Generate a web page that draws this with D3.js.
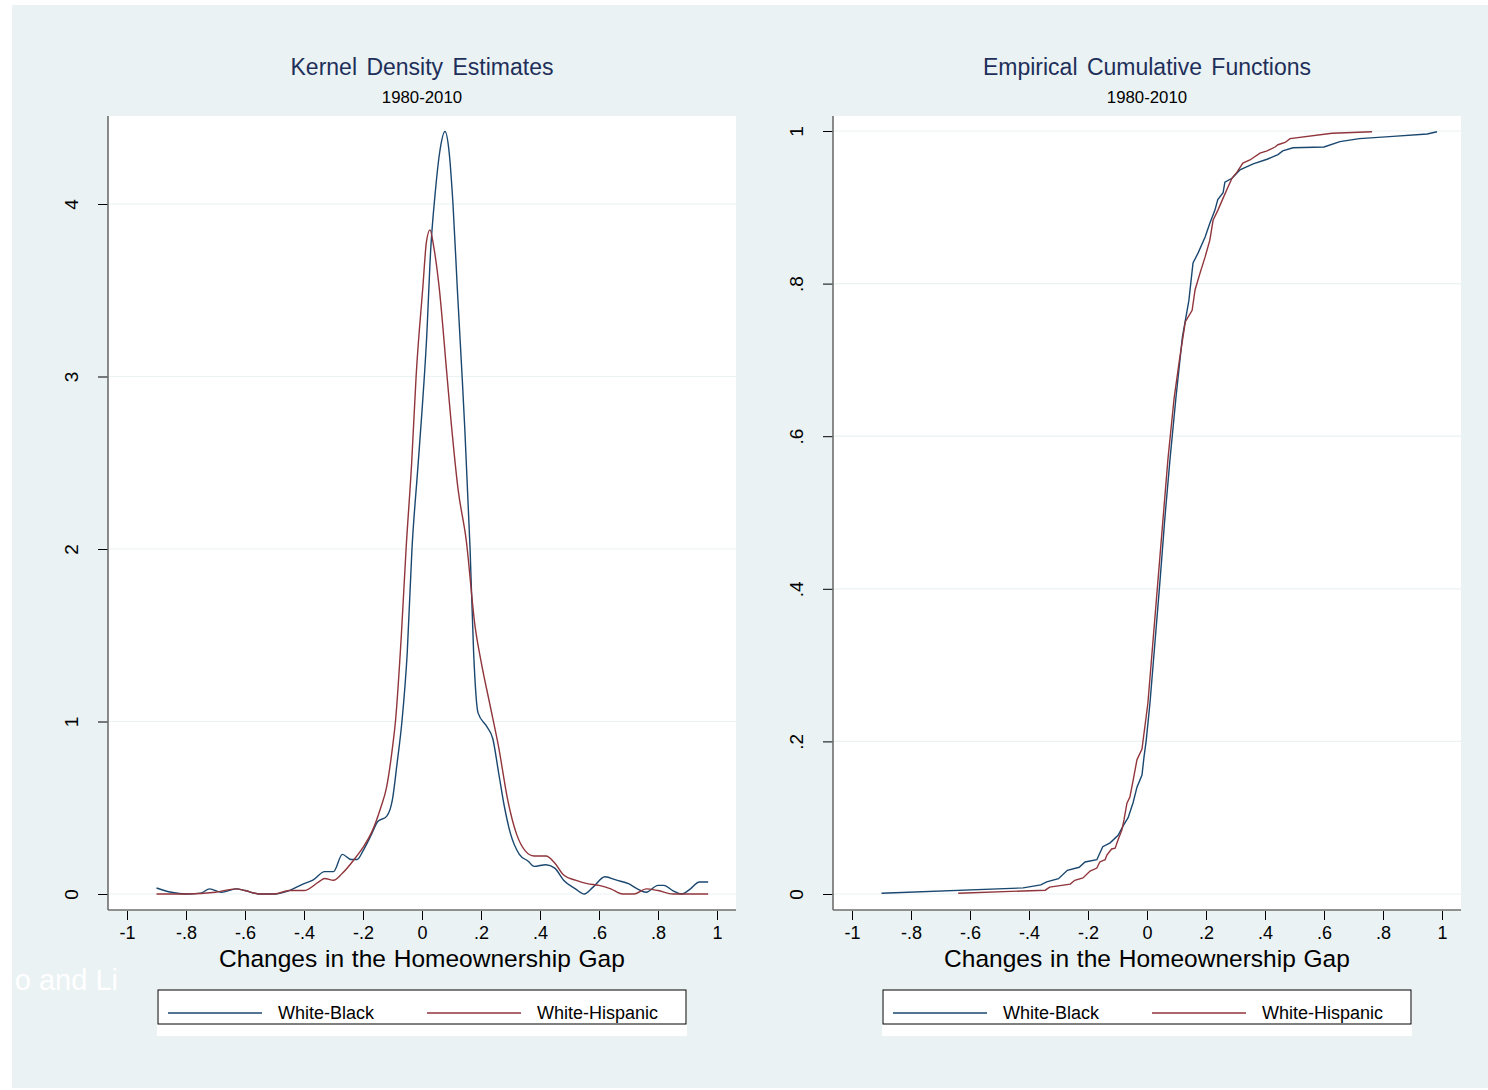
<!DOCTYPE html>
<html>
<head>
<meta charset="utf-8">
<script src="https://cdn.jsdelivr.net/npm/d3@7"></script>
<style>
  body { margin: 0; background: #fff; }
  svg { display: block; font-family: "Liberation Sans", Arial, sans-serif; }
</style>
</head>
<body>
<svg width="1488" height="1090"></svg>
<script>
// x ticks shared by both panels
const xTicks = [-1, -0.8, -0.6, -0.4, -0.2, 0, 0.2, 0.4, 0.6, 0.8, 1];
const kdeTicks = [0, 1, 2, 3, 4];
const cdfTicks = [0, 0.2, 0.4, 0.6, 0.8, 1];
const seriesNames = ["White-Black", "White-Hispanic"];
const seriesColors = ["#1a476f", "#90353b"];

// kernel density, white-black gap
const kdeBlack = [
  [-0.9, 0.035], [-0.85, 0.01], [-0.8, 0.0], [-0.75, 0.005], [-0.72, 0.03], [-0.68, 0.01],
  [-0.63, 0.03], [-0.6, 0.02], [-0.55, 0.0], [-0.5, 0.0], [-0.45, 0.02], [-0.4, 0.06],
  [-0.37, 0.08], [-0.33, 0.13], [-0.3, 0.13], [-0.27, 0.23], [-0.24, 0.2], [-0.22, 0.2],
  [-0.2, 0.25], [-0.17, 0.35], [-0.15, 0.42], [-0.12, 0.45], [-0.1, 0.55], [-0.085, 0.75],
  [-0.068, 1.0], [-0.05, 1.4], [-0.034, 2.0], [-0.015, 2.45], [0.0, 2.8], [0.015, 3.2],
  [0.03, 3.75], [0.044, 4.05], [0.06, 4.3], [0.078, 4.42], [0.092, 4.3], [0.105, 4.0],
  [0.12, 3.5], [0.136, 3.0], [0.145, 2.7], [0.163, 2.0], [0.175, 1.4], [0.19, 1.05],
  [0.22, 0.97], [0.24, 0.9], [0.26, 0.7], [0.28, 0.5], [0.3, 0.35],
  [0.33, 0.23], [0.36, 0.19], [0.38, 0.16], [0.42, 0.17], [0.45, 0.15], [0.48, 0.08],
  [0.52, 0.03], [0.55, 0.0], [0.58, 0.04], [0.62, 0.1], [0.66, 0.08], [0.7, 0.06],
  [0.73, 0.03], [0.76, 0.01], [0.8, 0.05], [0.82, 0.05], [0.85, 0.02], [0.88, 0.0],
  [0.91, 0.03], [0.94, 0.07], [0.97, 0.07]
];

// kernel density, white-hispanic gap
const kdeHispanic = [
  [-0.9, 0.0], [-0.8, 0.0], [-0.7, 0.01], [-0.63, 0.03], [-0.6, 0.02], [-0.55, 0.0],
  [-0.5, 0.0], [-0.45, 0.02], [-0.4, 0.02], [-0.35, 0.07], [-0.33, 0.09], [-0.3, 0.08],
  [-0.27, 0.12], [-0.23, 0.2], [-0.2, 0.27], [-0.17, 0.36], [-0.14, 0.5], [-0.12, 0.62],
  [-0.1, 0.85], [-0.09, 1.0], [-0.07, 1.5], [-0.054, 2.0], [-0.035, 2.5], [-0.02, 3.0],
  [0.003, 3.52], [0.015, 3.78], [0.027, 3.85], [0.04, 3.75], [0.058, 3.52], [0.085, 3.0],
  [0.098, 2.75], [0.122, 2.35], [0.15, 2.05],
  [0.18, 1.55], [0.2, 1.35], [0.23, 1.1], [0.26, 0.85], [0.29, 0.55], [0.32, 0.35],
  [0.35, 0.25], [0.38, 0.22], [0.42, 0.22], [0.45, 0.18], [0.48, 0.11], [0.52, 0.08],
  [0.56, 0.06], [0.6, 0.05], [0.64, 0.03], [0.68, 0.0], [0.72, 0.0], [0.76, 0.03],
  [0.8, 0.02], [0.85, 0.0], [0.97, 0.0]
];

// empirical cumulative distribution, white-black
const cdfBlack = [
  [-0.9, 0.001], [-0.42, 0.008], [-0.36, 0.012], [-0.34, 0.016], [-0.3, 0.02], [-0.27, 0.031],
  [-0.23, 0.035], [-0.21, 0.042], [-0.17, 0.045], [-0.15, 0.062], [-0.125, 0.067], [-0.098, 0.077],
  [-0.08, 0.09], [-0.064, 0.1], [-0.047, 0.12], [-0.034, 0.14], [-0.017, 0.156], [-0.01, 0.18],
  [-0.003, 0.2], [0.01, 0.25], [0.027, 0.33], [0.044, 0.41], [0.06, 0.49], [0.078, 0.57],
  [0.098, 0.65], [0.12, 0.73], [0.142, 0.778], [0.156, 0.827], [0.173, 0.84], [0.197, 0.861],
  [0.213, 0.879], [0.23, 0.896], [0.24, 0.91], [0.258, 0.919], [0.264, 0.933], [0.288, 0.938],
  [0.315, 0.949], [0.36, 0.957], [0.407, 0.963], [0.444, 0.969], [0.46, 0.974], [0.495, 0.978],
  [0.6, 0.979], [0.654, 0.986], [0.72, 0.99], [0.834, 0.993], [0.95, 0.996], [0.983, 0.999]
];

// empirical cumulative distribution, white-hispanic
const cdfHispanic = [
  [-0.64, 0.001], [-0.345, 0.005], [-0.33, 0.009], [-0.26, 0.013], [-0.245, 0.018], [-0.217, 0.021],
  [-0.193, 0.03], [-0.17, 0.034], [-0.16, 0.042], [-0.142, 0.045], [-0.136, 0.051], [-0.12, 0.059],
  [-0.108, 0.06], [-0.098, 0.071], [-0.085, 0.084], [-0.078, 0.097], [-0.068, 0.119], [-0.058, 0.127],
  [-0.047, 0.149], [-0.034, 0.176], [-0.017, 0.19], [0.003, 0.25], [0.02, 0.33], [0.037, 0.41],
  [0.054, 0.49], [0.071, 0.57], [0.092, 0.65], [0.11, 0.7], [0.13, 0.75], [0.153, 0.765],
  [0.163, 0.792], [0.18, 0.814], [0.197, 0.835], [0.213, 0.857], [0.224, 0.883], [0.24, 0.896],
  [0.258, 0.912], [0.275, 0.927], [0.288, 0.938], [0.305, 0.946], [0.325, 0.958], [0.349, 0.962],
  [0.383, 0.971], [0.407, 0.974], [0.434, 0.979], [0.444, 0.982], [0.468, 0.985], [0.485, 0.99],
  [0.627, 0.997], [0.763, 0.999]
];

const svg = d3.select("svg");

// outer graph background
svg.append("rect")
  .attr("x", 12).attr("y", 5).attr("width", 1476).attr("height", 1083)
  .attr("fill", "#eaf2f3");

const fmt = d => d === 0 ? "0" : (Math.abs(d) === 1 ? String(d) : String(d).replace("0.", "."));

function drawPanel(ox, opts) {
  const g = svg.append("g").attr("transform", `translate(${ox},0)`);
  const left = 108, right = 736, top = 116, bottom = 910;

  const x = d3.scaleLinear().domain([-1, 1]).range([127, 717]);
  const y = d3.scaleLinear().domain(opts.yDomain).range([894, opts.yTopPx]);

  g.append("rect")
    .attr("x", left).attr("y", top).attr("width", right - left).attr("height", bottom - top)
    .attr("fill", "#fff");

  // gridlines
  g.append("g").selectAll("line")
    .data(opts.yTicks)
    .join("line")
    .attr("x1", left).attr("x2", right)
    .attr("y1", d => y(d)).attr("y2", d => y(d))
    .attr("stroke", "#eaf2f3").attr("stroke-width", 1.2);

  // series
  const line = d3.line()
    .x(d => x(d[0])).y(d => y(d[1]))
    .curve(opts.curve);
  g.append("g").selectAll("path")
    .data(opts.series)
    .join("path")
    .attr("d", line)
    .attr("fill", "none")
    .attr("stroke", (d, i) => seriesColors[i])
    .attr("stroke-width", 1.4);

  // x axis
  const xAxis = g.append("g")
    .attr("transform", `translate(0,${bottom + 1})`)
    .call(d3.axisBottom(x).tickValues(xTicks).tickFormat(fmt).tickSize(9).tickPadding(6));
  xAxis.select(".domain").remove();
  xAxis.selectAll(".tick line").attr("stroke", "#000");
  xAxis.selectAll(".tick text")
    .attr("font-size", 18).attr("font-family", "Liberation Sans, Arial, sans-serif").attr("fill", "#000");
  g.append("line")
    .attr("x1", left).attr("x2", right).attr("y1", bottom).attr("y2", bottom)
    .attr("stroke", "#6e6e6e").attr("stroke-width", 1.6);

  // y axis
  const yAxis = g.append("g")
    .attr("transform", `translate(${left},0)`)
    .call(d3.axisLeft(y).tickValues(opts.yTicks).tickFormat(fmt).tickSize(10));
  yAxis.select(".domain").remove();
  yAxis.selectAll(".tick line").attr("stroke", "#000");
  yAxis.selectAll(".tick text")
    .attr("font-size", 19).attr("font-family", "Liberation Sans, Arial, sans-serif").attr("fill", "#000")
    .attr("text-anchor", "middle").attr("dy", null)
    .attr("x", null)
    .attr("transform", "translate(-35,0) rotate(-90)")
    .attr("dominant-baseline", "middle");
  g.append("line")
    .attr("x1", left).attr("x2", left).attr("y1", top).attr("y2", bottom)
    .attr("stroke", "#6e6e6e").attr("stroke-width", 1.6);

  // titles
  g.append("text")
    .attr("x", 422).attr("y", 75)
    .attr("text-anchor", "middle")
    .attr("font-size", 23).attr("fill", "#1e2f5a").attr("word-spacing", 3)
    .text(opts.title);
  g.append("text")
    .attr("x", 422).attr("y", 103)
    .attr("text-anchor", "middle")
    .attr("font-size", 16.8).attr("fill", "#000")
    .text("1980-2010");
  g.append("text")
    .attr("x", 422).attr("y", 967)
    .attr("text-anchor", "middle")
    .attr("font-size", 24.5).attr("fill", "#000").attr("word-spacing", 1)
    .text("Changes in the Homeownership Gap");

  // legend
  const lg = g.append("g");
  lg.append("rect")
    .attr("x", 157).attr("y", 990).attr("width", 530).attr("height", 46)
    .attr("fill", "#fff");
  lg.append("rect")
    .attr("x", 158).attr("y", 990).attr("width", 528).attr("height", 34)
    .attr("fill", "#fff").attr("stroke", "#000").attr("stroke-width", 1);
  const items = lg.selectAll("g.item")
    .data(seriesNames)
    .join("g")
    .attr("class", "item")
    .attr("transform", (d, i) => `translate(${168 + i * 259},1013)`);
  items.append("line")
    .attr("x1", 0).attr("x2", 94).attr("y1", 0).attr("y2", 0)
    .attr("stroke", (d, i) => seriesColors[i]).attr("stroke-width", 1.3);
  items.append("text")
    .attr("x", 110).attr("y", 6)
    .attr("font-size", 18).attr("fill", "#000")
    .text(d => d);
}

drawPanel(0, {
  title: "Kernel Density Estimates",
  yDomain: [0, 4], yTopPx: 204, yTicks: kdeTicks,
  series: [kdeBlack, kdeHispanic], curve: d3.curveMonotoneX
});
drawPanel(725, {
  title: "Empirical Cumulative Functions",
  yDomain: [0, 1], yTopPx: 131, yTicks: cdfTicks,
  series: [cdfBlack, cdfHispanic], curve: d3.curveLinear
});

// faint leftover note in the corner
svg.append("text")
  .attr("x", 118).attr("y", 990).attr("text-anchor", "end")
  .attr("font-size", 29).attr("fill", "#fff")
  .text("o and Li");
svg.append("text")
  .attr("x", 12).attr("y", 1026).attr("text-anchor", "end")
  .attr("font-size", 32).attr("fill", "#fff")
  .text("0");
</script>
</body>
</html>
